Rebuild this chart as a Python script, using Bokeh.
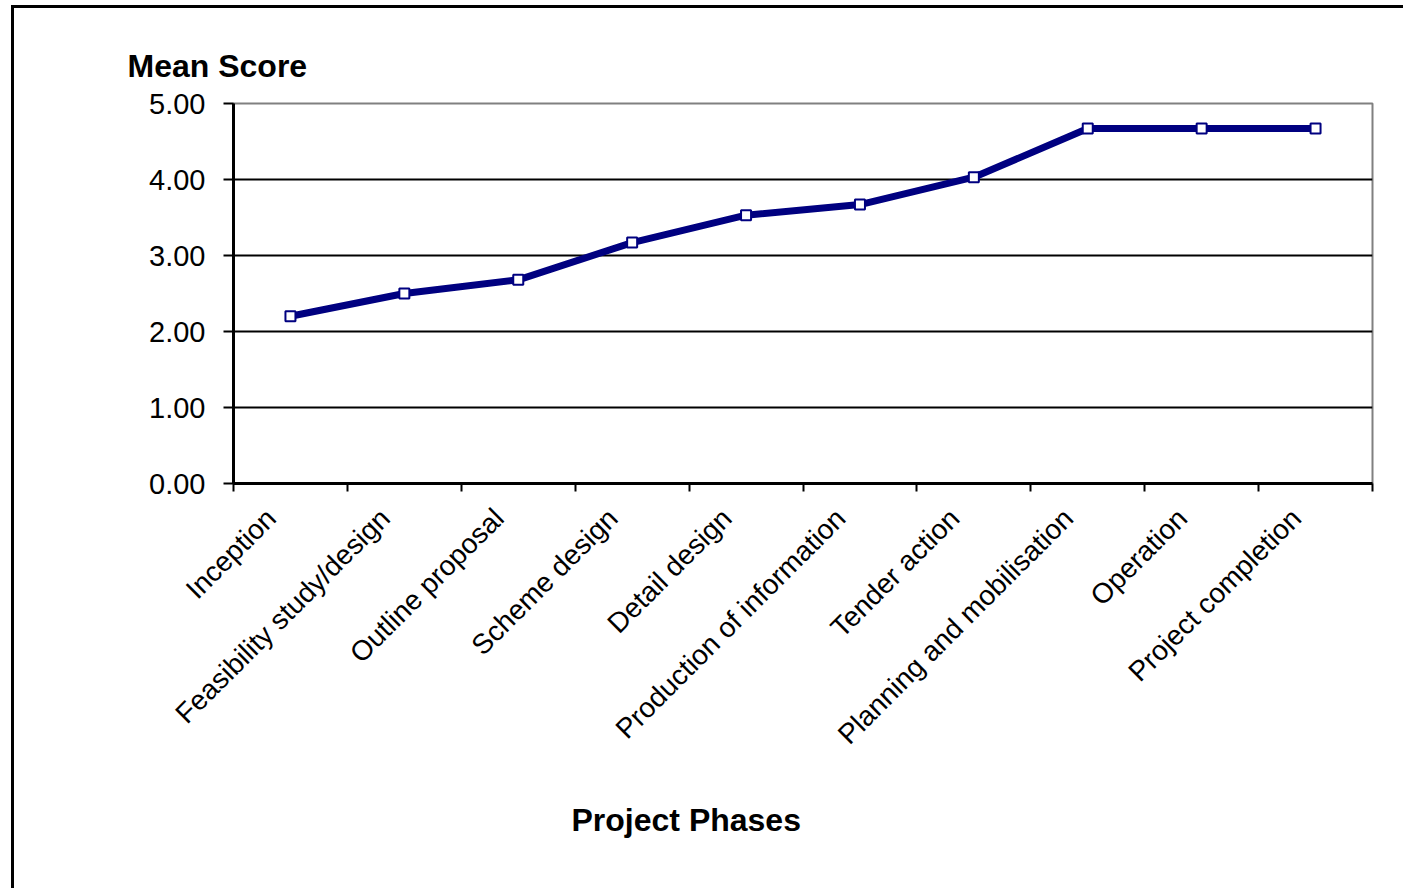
import math
from bokeh.plotting import figure
from bokeh.models import (Range1d, FixedTicker, CustomJSTickFormatter, Title,
                          PrintfTickFormatter, ColumnDataSource)
from bokeh.embed import file_html
from bokeh.resources import INLINE

phases = ["Inception", "Feasibility study/design", "Outline proposal", "Scheme design",
          "Detail design", "Production of information", "Tender action",
          "Planning and mobilisation", "Operation", "Project completion"]
mean_scores = [2.20, 2.50, 2.68, 3.17, 3.53, 3.67, 4.03, 4.67, 4.67, 4.67]
y_ticks = [0, 1, 2, 3, 4, 5]

xs = [i + 0.5 for i in range(len(phases))]
label_ticks = [i + 0.33 for i in range(len(phases))]  # label anchor slightly left of centre
src = ColumnDataSource(dict(x=xs, y=mean_scores, phase=phases))

FONT = "Liberation Sans"

p = figure(frame_width=1139, frame_height=380,
           min_border_left=219, min_border_right=31, min_border_top=95, min_border_bottom=405,
           x_range=Range1d(0, len(phases)), y_range=Range1d(0, 5),
           output_backend="svg", toolbar_location=None)
p.styles = {"border-left": "3px solid black", "border-top": "3px solid black",
            "margin-left": "11px", "margin-top": "5px"}

p.background_fill_color = "white"
p.border_fill_color = "white"
p.outline_line_color = "#808080"
p.outline_line_width = 2

# y-axis title ("Mean Score") as plot title above the frame
p.title.text = "Mean Score"
p.title.align = "left"
p.title.offset = -106
p.title.standoff = 39
p.title.text_font = FONT
p.title.text_font_style = "bold"
p.title.text_font_size = "32px"
p.title.text_color = "black"

# grid
p.xgrid.visible = False
p.ygrid.ticker = FixedTicker(ticks=y_ticks)
p.ygrid.grid_line_color = "black"
p.ygrid.grid_line_width = 2

# y axis
ya = p.yaxis[0]
ya.ticker = FixedTicker(ticks=y_ticks)
ya.formatter = PrintfTickFormatter(format="%.2f")
ya.axis_line_color = "black"
ya.axis_line_width = 3
ya.major_tick_line_width = 2
ya.major_tick_in = 0
ya.major_tick_out = 10
ya.minor_tick_line_color = None
ya.major_label_text_font = FONT
ya.major_label_text_font_size = "29px"
ya.major_label_text_color = "black"
ya.major_label_standoff = 18

# x axis
xa = p.xaxis[0]
xa.ticker = FixedTicker(ticks=label_ticks, minor_ticks=list(range(len(phases) + 1)))
xa.formatter = CustomJSTickFormatter(args=dict(labels=phases),
                                     code="var i = Math.round(tick - 0.5); return labels[i] || '';")
xa.axis_line_color = "black"
xa.axis_line_width = 3
xa.major_tick_line_color = None
xa.minor_tick_line_width = 2
xa.minor_tick_line_color = "black"
xa.minor_tick_in = 0
xa.minor_tick_out = 8
xa.major_label_orientation = math.pi / 4
xa.major_label_text_font = FONT
xa.major_label_text_font_size = "28px"
xa.major_label_text_color = "black"
xa.major_label_standoff = 22

# x-axis title below
xt = Title(text="Project Phases", align="left", offset=338, standoff=70,
           text_font=FONT, text_font_style="bold", text_font_size="32px",
           text_color="black")
p.add_layout(xt, "below")

# data
p.line("x", "y", source=src, line_color="#000080", line_width=7)
p.scatter("x", "y", source=src, marker="square", size=10, fill_color="white",
          line_color="#000080", line_width=2)

open("out.html", "w").write(file_html(p, INLINE))
